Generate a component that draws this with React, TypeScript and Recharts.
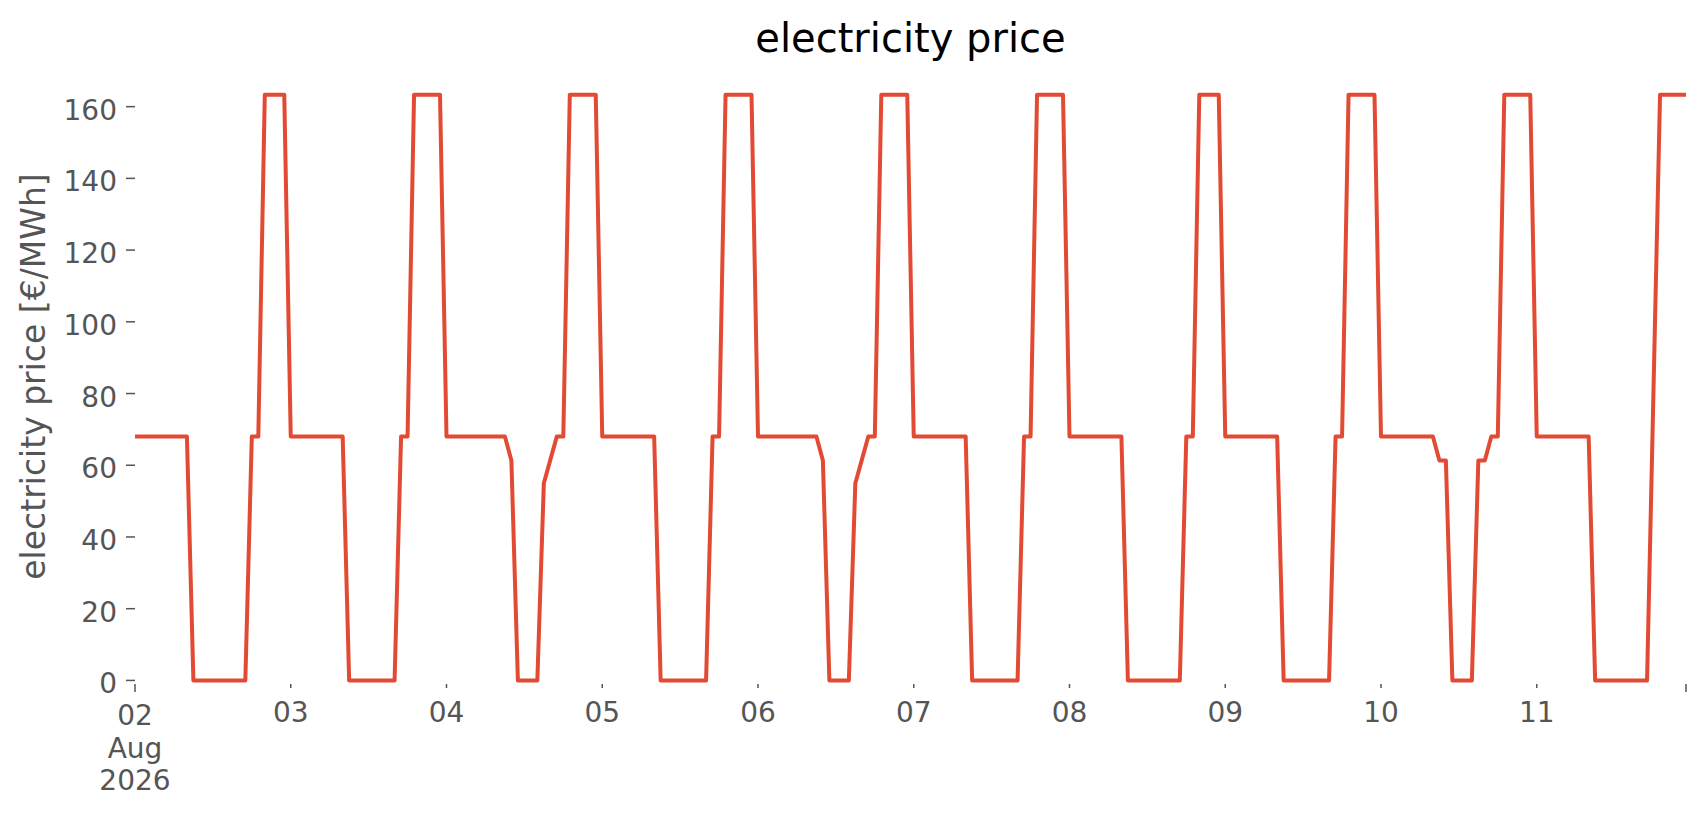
import React from "react";
import { LineChart, Line, XAxis, YAxis } from "recharts";

// hourly price, one array per day (02 Aug 2026 .. 11 Aug 2026)
const aug02 = [68, 68, 68, 68, 68, 68, 68, 68, 68, 0, 0, 0, 0, 0, 0, 0, 0, 0, 68, 68, 163.3, 163.3, 163.3, 163.3];
const aug03 = [68, 68, 68, 68, 68, 68, 68, 68, 68, 0, 0, 0, 0, 0, 0, 0, 0, 68, 68, 163.3, 163.3, 163.3, 163.3, 163.3];
const aug04 = [68, 68, 68, 68, 68, 68, 68, 68, 68, 68, 61.3, 0, 0, 0, 0, 55, 61.5, 68, 68, 163.3, 163.3, 163.3, 163.3, 163.3];
const aug05 = [68, 68, 68, 68, 68, 68, 68, 68, 68, 0, 0, 0, 0, 0, 0, 0, 0, 68, 68, 163.3, 163.3, 163.3, 163.3, 163.3];
const aug06 = [68, 68, 68, 68, 68, 68, 68, 68, 68, 68, 61.3, 0, 0, 0, 0, 55, 61.5, 68, 68, 163.3, 163.3, 163.3, 163.3, 163.3];
const aug07 = [68, 68, 68, 68, 68, 68, 68, 68, 68, 0, 0, 0, 0, 0, 0, 0, 0, 68, 68, 163.3, 163.3, 163.3, 163.3, 163.3];
const aug08 = [68, 68, 68, 68, 68, 68, 68, 68, 68, 0, 0, 0, 0, 0, 0, 0, 0, 0, 68, 68, 163.3, 163.3, 163.3, 163.3];
const aug09 = [68, 68, 68, 68, 68, 68, 68, 68, 68, 0, 0, 0, 0, 0, 0, 0, 0, 68, 68, 163.3, 163.3, 163.3, 163.3, 163.3];
const aug10 = [68, 68, 68, 68, 68, 68, 68, 68, 68, 61.3, 61.3, 0, 0, 0, 0, 61.3, 61.3, 68, 68, 163.3, 163.3, 163.3, 163.3, 163.3];
const aug11 = [68, 68, 68, 68, 68, 68, 68, 68, 68, 0, 0, 0, 0, 0, 0, 0, 0, 0, 81.7, 163.3, 163.3, 163.3, 163.3, 163.3];

const days = [aug02, aug03, aug04, aug05, aug06, aug07, aug08, aug09, aug10, aug11];

// x ticks in hours since 02 Aug 00:00
const xTicks = [0, 24, 48, 72, 96, 120, 144, 168, 192, 216, 239];
const xTickLabels = [["02", "Aug", "2026"], ["03"], ["04"], ["05"], ["06"], ["07"], ["08"], ["09"], ["10"], ["11"], []];
const yTicks = [0, 20, 40, 60, 80, 100, 120, 140, 160];

const data = days.flat().map((price, hour) => ({ hour, price }));

const LINE = "#E24A33";
const TICK = "#555555";
const FONT = "DejaVu Sans";

function DayTick(props: any) {
  const { x, y, payload } = props;
  const i = xTicks.indexOf(payload.value);
  const lines = xTickLabels[i] ?? [];
  const major = i === 0 || i === xTicks.length - 1;
  const base = y + (major ? 41 : 38);
  return (
    <g>
      <line x1={x} x2={x} y1={y} y2={y + (major ? 8 : 4)} stroke={TICK} strokeWidth={1.5} />
      {lines.map((t, k) => (
        <text key={k} x={x} y={base + k * 32.5} textAnchor="middle" fill={TICK} fontSize={28} fontFamily={FONT}>
          {t}
        </text>
      ))}
    </g>
  );
}

function PriceTick(props: any) {
  const { x, y, payload } = props;
  return (
    <g>
      <line x1={x - 9} x2={x} y1={y} y2={y} stroke={TICK} strokeWidth={1.5} />
      <text x={x - 18} y={y + 13} textAnchor="end" fill={TICK} fontSize={28} fontFamily={FONT}>
        {payload.value}
      </text>
    </g>
  );
}

export default function App() {
  return (
    <div style={{ position: "absolute", left: 0, top: 0, width: 1706, height: 815, background: "#fff" }}>
      <LineChart width={1706} height={815} data={data} margin={{ top: 69, right: 20, bottom: 0, left: 0 }}>
        <XAxis
          dataKey="hour"
          type="number"
          domain={[0, 239]}
          ticks={xTicks}
          interval={0}
          height={131}
          axisLine={false}
          tickLine={false}
          tickSize={0}
          tickMargin={0}
          tick={<DayTick />}
        />
        <YAxis
          type="number"
          domain={[-1, 170.5]}
          ticks={yTicks}
          interval={0}
          width={135}
          axisLine={false}
          tickLine={false}
          tickSize={0}
          tickMargin={0}
          tick={<PriceTick />}
          allowDataOverflow
        />
        <Line
          type="linear"
          dataKey="price"
          stroke={LINE}
          strokeWidth={4}
          strokeLinejoin="round"
          dot={false}
          activeDot={false}
          isAnimationActive={false}
        />
      </LineChart>
      <svg width={1706} height={815} style={{ position: "absolute", left: 0, top: 0, pointerEvents: "none" }}>
        <text x={910.5} y={52} textAnchor="middle" fill="#000" fontSize={40} fontFamily={FONT}>
          electricity price
        </text>
        <text
          x={45}
          y={376.5}
          transform="rotate(-90 45 376.5)"
          textAnchor="middle"
          fill={TICK}
          fontSize={33}
          fontFamily={FONT}
        >
          electricity price [€/MWh]
        </text>
      </svg>
    </div>
  );
}
